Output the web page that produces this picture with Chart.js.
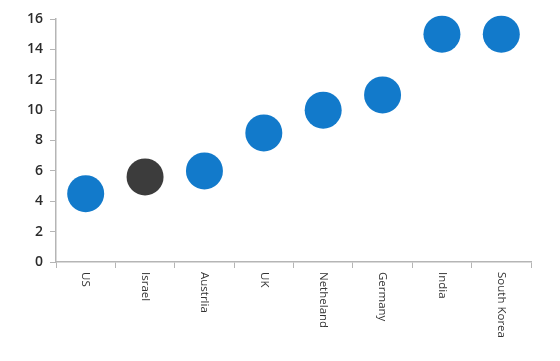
<!DOCTYPE html>
<html>
<head>
<meta charset="utf-8">
<script src="https://cdn.jsdelivr.net/npm/chart.js@4"></script>
<style>
  html, body { margin: 0; padding: 0; background: #fff; }
  #wrap { width: 560px; height: 361px; }
</style>
</head>
<body>
<div id="wrap"><canvas id="chart"></canvas></div>
<script>
// Data
const countries = ['US', 'Israel', 'Austrlia', 'UK', 'Netheland', 'Germany', 'India', 'South Korea'];
const values = [4.5, 5.6, 6, 8.5, 10, 11, 15, 15];
const highlight = 'Israel';

const blue = '#127acb';
const dark = '#3c3c3c';
const pointColors = countries.map(c => (c === highlight ? dark : blue));

// Category labels read top to bottom (rotated clockwise), so draw them here
const verticalLabels = {
  id: 'verticalLabels',
  afterDraw(chart) {
    const xScale = chart.scales.x;
    const c = chart.ctx;
    c.save();
    c.font = '11.5px "Open Sans"';
    c.fillStyle = '#333';
    c.textAlign = 'left';
    c.textBaseline = 'middle';
    chart.data.labels.forEach((label, i) => {
      const x = xScale.getPixelForValue(i);
      c.save();
      c.translate(x, xScale.top + 10);
      c.rotate(Math.PI / 2);
      c.fillText(label, 0, 0);
      c.restore();
    });
    c.restore();
  },
};

const ctx = document.getElementById('chart').getContext('2d');

new Chart(ctx, {
  type: 'line',
  data: {
    labels: countries,
    datasets: [
      {
        data: values,
        showLine: false,
        pointRadius: 18.5,
        pointHoverRadius: 18.5,
        pointBackgroundColor: pointColors,
        pointBorderColor: pointColors,
        pointBorderWidth: 0,
      },
    ],
  },
  options: {
    responsive: true,
    maintainAspectRatio: false,
    animation: false,
    clip: false,
    layout: { padding: { top: 19, right: 29, left: 0, bottom: 0 } },
    plugins: { legend: { display: false }, tooltip: { enabled: false } },
    scales: {
      x: {
        type: 'category',
        offset: true,
        grid: { drawOnChartArea: false, drawTicks: true, tickLength: 6, color: '#b5b5b5', offset: true },
        border: { color: '#b5b5b5', width: 1.5 },
        ticks: { display: false },
        afterFit: (scale) => { scale.height = 99; },
      },
      y: {
        min: 0,
        max: 16,
        grid: { drawOnChartArea: false, drawTicks: true, tickLength: 6, color: '#b5b5b5' },
        border: { color: '#b5b5b5', width: 1.5 },
        ticks: {
          stepSize: 2,
          color: '#2b2b2b',
          padding: 7,
          font: { family: 'Open Sans', size: 14, weight: '600' },
        },
        afterFit: (scale) => { scale.width = 56; },
      },
    },
  },
  plugins: [verticalLabels],
});
</script>
</body>
</html>
